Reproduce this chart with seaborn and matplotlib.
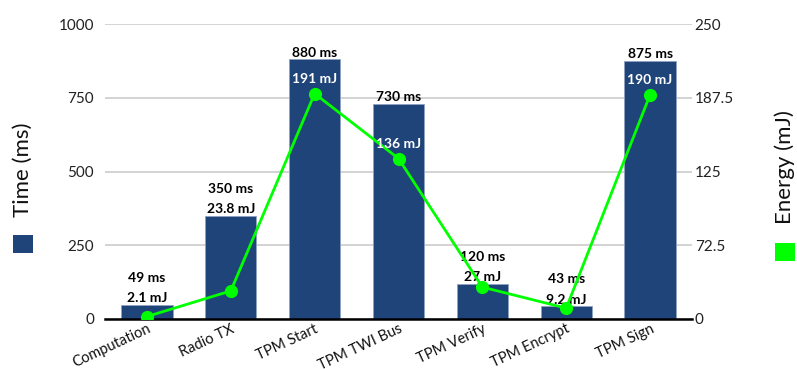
import matplotlib
matplotlib.use("Agg")
import matplotlib.pyplot as plt
from matplotlib.patches import Rectangle
import seaborn as sns
import pandas as pd

categories = ["Computation", "Radio TX", "TPM Start", "TPM TWI Bus", "TPM Verify", "TPM Encrypt", "TPM Sign"]
time_ms = [49, 350, 880, 730, 120, 43, 875]
energy_mj = [2.1, 23.8, 191, 136, 27, 9.2, 190]
time_labels = ["49 ms", "350 ms", "880 ms", "730 ms", "120 ms", "43 ms", "875 ms"]
energy_labels = ["2.1 mJ", "23.8 mJ", "191 mJ", "136 mJ", "27 mJ", "9.2 mJ", "190 mJ"]
left_ticks = [0, 250, 500, 750, 1000]
right_ticks = [0, 62.5, 125, 187.5, 250]
right_tick_labels = ["0", "72.5", "125", "187.5", "250"]

sns.set_theme(style="white")
plt.rcParams['font.family'] = ['Lato', 'DejaVu Sans']

NAVY = "#1f4479"
GREEN = "#00ff00"

df = pd.DataFrame({"cat": categories, "time": time_ms, "energy": energy_mj})

fig = plt.figure(figsize=(7.97, 3.69), dpi=100)
ax = fig.add_axes([105 / 797, 1 - 319 / 369, 587 / 797, 295 / 369])
sns.barplot(data=df, x="cat", y="time", color=NAVY, width=0.61, ax=ax,
            saturation=1, edgecolor="#8fa3c0", linewidth=0.6, zorder=2)
ax.set_xlim(-0.5, len(categories) - 0.5)
ax.set_ylim(0, 1000)
ax.set_yticks(left_ticks)
ax.set_yticklabels([str(t) for t in left_ticks], fontsize=11, color="#222222")
ax.grid(axis="y", color="#d0d0d0", linewidth=1.3, zorder=0)
ax.set_axisbelow(True)
for s in ["top", "right", "left"]:
    ax.spines[s].set_visible(False)
ax.spines["bottom"].set_color("black")
ax.spines["bottom"].set_linewidth(1.8)
ax.tick_params(axis="y", length=0, pad=8, left=True)
ax.tick_params(axis="x", length=0, pad=2)
ax.set_xlabel("")
ax.set_ylabel("")
ax.set_xticks(range(len(categories)))
ax.set_xticklabels(categories, rotation=25, ha="right", rotation_mode="anchor",
                   fontsize=10.5, color="#111111")

ax2 = ax.twinx()
sns.lineplot(data=df, x="cat", y="energy", color=GREEN, linewidth=2, marker="o",
             markersize=9.5, markeredgewidth=0, ax=ax2, sort=False, zorder=3)
ax2.set_ylim(0, 250)
ax2.set_yticks(right_ticks)
ax2.set_yticklabels(right_tick_labels, fontsize=11, color="#222222")
ax2.tick_params(axis="y", length=0, pad=2, right=True)
for s in ["top", "right", "left", "bottom"]:
    ax2.spines[s].set_visible(False)
ax2.set_ylabel("")
ax2.set_xlabel("")

# annotations
for i, (t, e, tl, el) in enumerate(zip(time_ms, energy_mj, time_labels, energy_labels)):
    ax.annotate(tl, (i, t), xytext=(0, 0.5 if t > 500 else 15), textcoords="offset points",
                ha="center", va="bottom", fontsize=10, fontweight="bold", color="black")
    if t > 500:
        ax2.annotate(el, (i, e), xytext=(0, 6), textcoords="offset points",
                     ha="center", va="bottom", fontsize=10, fontweight="bold", color="white")
    else:
        ax.annotate(el, (i, t), xytext=(0, 0.5), textcoords="offset points",
                    ha="center", va="bottom", fontsize=10, fontweight="bold", color="black")

# side legends
fig.text(23 / 797, 1 - 170 / 369, "Time (ms)", rotation=90, ha="center", va="center",
         fontsize=16, color="#111111")
fig.patches.append(Rectangle((13 / 797, 1 - 253 / 369), 20 / 797, 18 / 369,
                             transform=fig.transFigure, facecolor=NAVY, edgecolor="none"))
fig.text(785 / 797, 1 - 167 / 369, "Energy (mJ)", rotation=90, ha="center", va="center",
         fontsize=16, color="#111111")
fig.patches.append(Rectangle((775 / 797, 1 - 261 / 369), 20 / 797, 18 / 369,
                             transform=fig.transFigure, facecolor=GREEN, edgecolor="none"))

fig.savefig("out.png", dpi=100)
